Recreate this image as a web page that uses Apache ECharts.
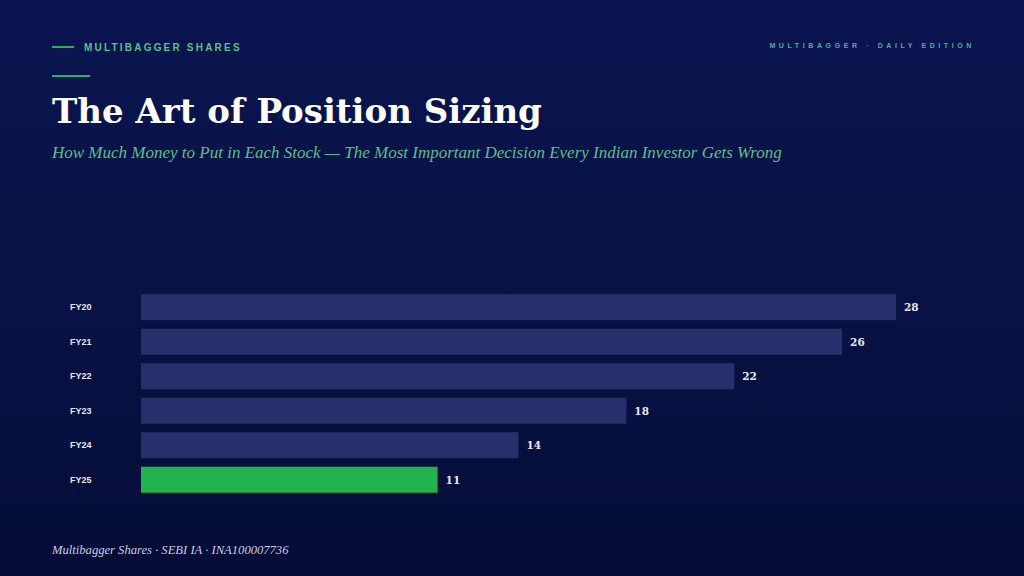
<!DOCTYPE html>
<html>
<head>
  <meta charset="utf-8">
  <title>The Art of Position Sizing</title>
  <style>
    html, body { margin: 0; padding: 0; width: 1024px; height: 576px; overflow: hidden; }
    body {
      background: linear-gradient(180deg, #0a1550 0%, #081245 50%, #050c36 100%);
      position: relative;
      font-family: "Liberation Serif", serif;
    }
    .kicker { position: absolute; left: 52px; top: 40px; height: 14px; display: flex; align-items: center; }
    .kicker .dash { width: 22px; height: 2px; background: #2fae5c; margin-right: 10px; }
    .kicker span { font-family: "Liberation Sans", Arial, sans-serif; font-weight: bold; font-size: 10px; letter-spacing: 2.2px; color: #5cbf86; }
    .edition { position: absolute; right: 49px; top: 42px; font-family: "Liberation Sans", Arial, sans-serif; font-weight: bold; font-size: 7px; letter-spacing: 3.6px; color: #5aa8a2; }
    .rule { position: absolute; left: 52px; top: 75px; width: 38px; height: 2px; background: #2fae5c; }
    h1 { position: absolute; left: 52px; top: 91px; margin: 0; font-family: "DejaVu Serif", serif; font-weight: bold; font-size: 34px; letter-spacing: 0; color: #ffffff; white-space: nowrap; }
    .sub { position: absolute; left: 52px; top: 143px; font-style: italic; font-size: 17px; color: #5cbf86; white-space: nowrap; }
    .foot { position: absolute; left: 52px; top: 543px; font-style: italic; font-size: 12.6px; color: #c9cde0; white-space: nowrap; }
    #main { position: absolute; left: 0; top: 0; width: 1024px; height: 576px; }
  </style>
</head>
<body>
<div id="main"></div>
<div class="kicker"><div class="dash"></div><span>MULTIBAGGER SHARES</span></div>
<div class="edition">MULTIBAGGER · DAILY EDITION</div>
<div class="rule"></div>
<h1>The Art of Position Sizing</h1>
<div class="sub">How Much Money to Put in Each Stock — The Most Important Decision Every Indian Investor Gets Wrong</div>
<div class="foot">Multibagger Shares · SEBI IA · INA100007736</div>

<script src="https://cdn.jsdelivr.net/npm/echarts@6/dist/echarts.min.js"></script>
<script>
  // 数据
  var years = ['FY20', 'FY21', 'FY22', 'FY23', 'FY24', 'FY25'];
  var values = [28, 26, 22, 18, 14, 11];
  var highlight = 'FY25';

  var myChart = echarts.init(document.getElementById('main'), null, { renderer: 'svg' });
  myChart.setOption({
    animation: false,
    grid: { left: 141, top: 290, width: 755, height: 207, containLabel: false },
    xAxis: {
      type: 'value', min: 0, max: 28,
      show: false
    },
    yAxis: {
      type: 'category',
      data: years,
      inverse: true,
      axisLine: { show: false },
      axisTick: { show: false },
      axisLabel: {
        align: 'left', margin: 71,
        lineHeight: 12, padding: [0, 0, 5, 0],
        color: '#e4e7f2', fontSize: 9, fontWeight: 'bold',
        fontFamily: 'Liberation Sans, Arial, sans-serif'
      }
    },
    series: [{
      type: 'bar',
      barWidth: 26,
      data: values.map(function (v, i) {
        return {
          value: v,
          itemStyle: { color: years[i] === highlight ? '#22b24c' : '#27306b' }
        };
      }),
      label: {
        show: true, position: 'right', distance: 8,
        color: '#e4e7f2', fontSize: 10.5, fontWeight: 'bold',
        fontFamily: 'DejaVu Serif, serif'
      }
    }]
  });
</script>
</body>
</html>
